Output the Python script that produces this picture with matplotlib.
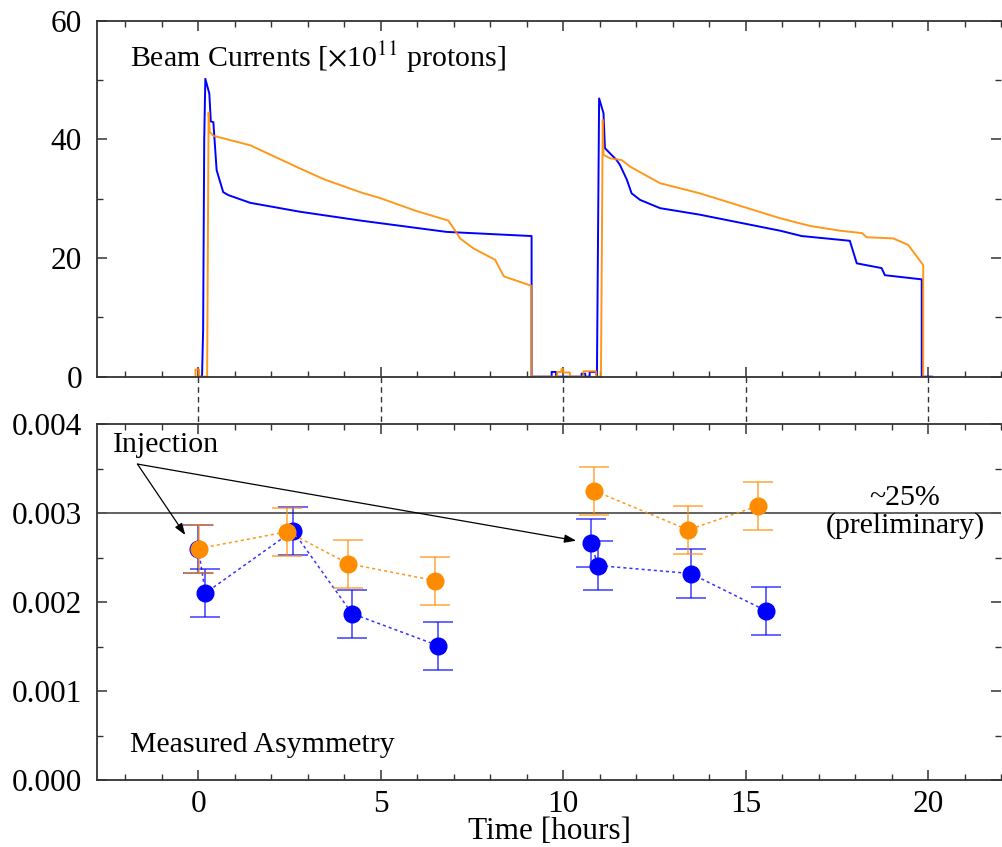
import matplotlib
matplotlib.use("Agg")
import matplotlib.pyplot as plt
from matplotlib.ticker import MultipleLocator, FormatStrFormatter
from matplotlib.transforms import blended_transform_factory

plt.rcParams["font.family"] = ["Liberation Serif", "DejaVu Serif"]
plt.rcParams["mathtext.fontset"] = "stix"

BLUE = "#0000ff"
ORANGE = "#ff8c00"

# beam currents [1e11 protons] vs time [hours]
blue_t = [0.00, 0.10, 0.13, 0.16, 0.19, 0.30, 0.34, 0.41, 0.50, 0.68, 0.82, 1.42,
          2.78, 4.45, 6.80, 9.13, 9.13, 9.68, 9.68, 9.80, 9.80, 10.50, 10.50,
          10.60, 10.60, 10.72, 10.72, 10.90, 10.92, 10.98, 11.10, 11.14, 11.46,
          11.55, 11.74, 11.87, 12.10, 12.65, 13.74, 15.94, 16.53, 17.85, 18.04,
          18.72, 18.81, 19.82, 19.82, 20.10]
blue_i = [0, 0, 8, 40, 50.2, 47.7, 43.0, 42.9, 34.8, 31.1, 30.6, 29.3,
          27.8, 26.3, 24.4, 23.7, 0, 0, 0.8, 0.8, 0, 0, 0.5,
          0.5, 0, 0, 0.8, 0.8, 0, 46.9, 44.4, 38.5, 36.5,
          35.7, 33.2, 30.9, 29.8, 28.4, 27.3, 24.6, 23.7, 22.9, 19.1,
          18.3, 17.1, 16.4, 0, 0]

orange_t = [-0.08, -0.08, 0.02, 0.02, 0.24, 0.28, 0.31, 0.41, 1.42, 2.78,
            3.47, 4.48, 4.98, 5.98, 6.85, 7.08, 7.17, 7.54, 8.13, 8.37, 9.13,
            9.13, 9.83, 9.83, 9.95, 9.95, 10.00, 10.00, 10.18, 10.18, 10.55,
            10.55, 10.90, 10.90, 11.03, 11.08, 11.10, 11.28, 11.60, 11.83, 12.65,
            13.74, 15.94, 16.76, 17.58, 18.18, 18.31, 19.04, 19.45, 19.86, 19.86]
orange_i = [0, 1.2, 1.2, 0, 0, 44.5, 41.3, 40.6, 39.0, 35.1,
            33.2, 31.0, 30.1, 27.9, 26.3, 24.2, 23.3, 21.6, 19.7, 16.9, 15.3,
            0, 0, 0.8, 0.8, 1.3, 1.3, 0.7, 0.7, 0, 0,
            0.9, 0.9, 0, 0, 43.3, 37.4, 36.8, 36.5, 35.4, 32.6,
            30.9, 26.7, 25.4, 24.6, 24.2, 23.5, 23.3, 22.2, 18.8, 0]

# measured asymmetry, two fills per beam
blue_fill1_x = [0.00, 0.19, 2.59, 4.21, 6.57]
blue_fill1_y = [0.00260, 0.00210, 0.00280, 0.00187, 0.00151]
blue_fill2_x = [10.77, 10.94, 13.49, 15.56]
blue_fill2_y = [0.00266, 0.00241, 0.00232, 0.00190]
orange_fill1_x = [0.01, 2.44, 4.11, 6.48]
orange_fill1_y = [0.00260, 0.00279, 0.00243, 0.00224]
orange_fill2_x = [10.85, 13.42, 15.33]
orange_fill2_y = [0.00325, 0.00281, 0.00308]
asym_err = 0.00027

fig = plt.figure(figsize=(10.02, 8.47), dpi=100)
ax_top = fig.add_axes([0.0971, 0.5553, 0.9022, 0.4203])
ax_bot = fig.add_axes([0.0971, 0.0791, 0.9022, 0.4203])

for ax in (ax_top, ax_bot):
    ax.set_xlim(-2.77, 22.0)
    ax.xaxis.set_major_locator(MultipleLocator(5))
    ax.xaxis.set_minor_locator(MultipleLocator(1))
    ax.tick_params(which="both", direction="in", top=True, right=True,
                   labelsize=22.5, color="#333333")
    ax.tick_params(which="major", length=7, width=1.1)
    ax.tick_params(which="minor", length=4, width=1.0)
    ax.tick_params(axis="y", pad=11)
    ax.tick_params(axis="x", pad=7)
    for name, sp in ax.spines.items():
        sp.set_linewidth(1.3)
        sp.set_color("#333333")
    ax.spines["right"].set_visible(False)

# top panel
ax_top.plot(blue_t, blue_i, color=BLUE, lw=1.4)
ax_top.plot(orange_t, orange_i, color=ORANGE, lw=1.4, alpha=0.9)
ax_top.set_ylim(0, 60)
ax_top.yaxis.set_major_locator(MultipleLocator(20))
ax_top.yaxis.set_minor_locator(MultipleLocator(10))
ax_top.tick_params(labelbottom=False)
ax_top.text(0.036, 0.898, r"Beam Currents [$\times$10$^{11}$ protons]",
            transform=ax_top.transAxes, fontsize=21.5, va="center", ha="left")

# dashed guides between the panels
trans = blended_transform_factory(ax_top.transData, ax_top.transAxes)
for xv in [0, 5, 10, 15, 20]:
    ax_top.plot([xv, xv], [0, -0.135], transform=trans, color="#333333",
                lw=1.0, ls=(0, (4, 3)), clip_on=False)

# bottom panel
ax_bot.axhline(0.003, color="#555555", lw=1.3)

err_kw = dict(fmt="none", capsize=11, elinewidth=1.4, capthick=1.4, alpha=0.6)
for xs, ys in [(blue_fill1_x, blue_fill1_y), (blue_fill2_x, blue_fill2_y)]:
    ax_bot.errorbar(xs, ys, yerr=asym_err, ecolor=BLUE, **err_kw)
    ax_bot.plot(xs, ys, color=BLUE, lw=1.1, ls=(0, (2, 2)), alpha=0.8)
    ax_bot.plot(xs, ys, "o", color=BLUE, ms=12, ls="none")
for xs, ys in [(orange_fill1_x, orange_fill1_y), (orange_fill2_x, orange_fill2_y)]:
    ax_bot.errorbar(xs, ys, yerr=asym_err, ecolor=ORANGE, **err_kw)
    ax_bot.plot(xs, ys, color=ORANGE, lw=1.1, ls=(0, (2, 2)), alpha=0.9)
    ax_bot.plot(xs, ys, "o", color=ORANGE, ms=12, ls="none")

ax_bot.set_ylim(0, 0.004)
ax_bot.yaxis.set_major_locator(MultipleLocator(0.001))
ax_bot.yaxis.set_minor_locator(MultipleLocator(0.0005))
ax_bot.yaxis.set_major_formatter(FormatStrFormatter("%.3f"))

ax_bot.text(0.0177, 0.941, "Injection", transform=ax_bot.transAxes,
            fontsize=21.5, va="center", ha="left")
arrow_kw = dict(arrowstyle="-|>,head_length=0.7,head_width=0.25", lw=0.9,
                color="black", shrinkA=0, shrinkB=0)
ax_bot.annotate("", xy=(-0.36, 0.002753), xytext=(-1.67, 0.00355),
                arrowprops=arrow_kw)
ax_bot.annotate("", xy=(10.35, 0.002689), xytext=(-1.67, 0.00355),
                arrowprops=arrow_kw)
ax_bot.text(19.36, 0.00301, "~25%\n(preliminary)", fontsize=21.5,
            ha="center", va="center", linespacing=1.05)
ax_bot.text(0.036, 0.098, "Measured Asymmetry", transform=ax_bot.transAxes,
            fontsize=21.5, va="center", ha="left")
ax_bot.set_xlabel("Time [hours]", fontsize=22.5, labelpad=-1)

fig.savefig("out.png", dpi=100)
